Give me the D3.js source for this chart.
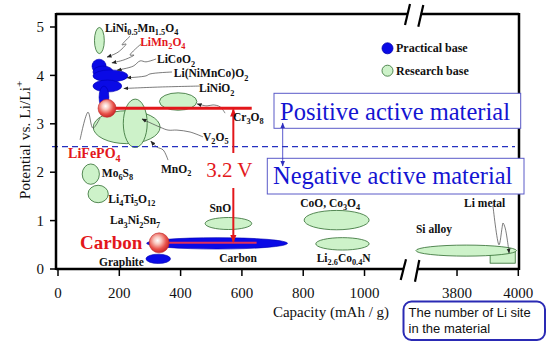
<!DOCTYPE html>
<html><head><meta charset="utf-8">
<script src="https://cdn.jsdelivr.net/npm/d3@7"></script>
<style>body{margin:0;background:#fff}svg{display:block}</style>
</head><body>
<svg id="c" width="549" height="355"></svg>
<script>
// ---------- data ----------
const CAP_TICKS = [0, 200, 400, 600, 800, 1000, 3800, 4000];
const POT_TICKS = [0, 1, 2, 3, 4, 5];

// research-base materials: capacity / potential centre and half-spread
const RESEARCH = [
  {name: "LiNi0.5Mn1.5O4", cap: 135, pot: 4.72, dCap: 16, dPot: 0.27},
  {name: "Cr3O8", cap: 392, pot: 3.46, dCap: 61, dPot: 0.18},
  {name: "V2O5", cap: 224, pot: 2.93, dCap: 109, dPot: 0.34},
  {name: "MnO2", cap: 252, pot: 3.01, dCap: 39, dPot: 0.5},
  {name: "Mo6S8", cap: 107, pot: 1.96, dCap: 28, dPot: 0.21},
  {name: "Li4Ti5O12", cap: 131, pot: 1.55, dCap: 33, dPot: 0.18},
  {name: "SnO", cap: 556, pot: 0.94, dCap: 76, dPot: 0.124},
  {name: "CoO, Co3O4", cap: 909, pot: 1.01, dCap: 106, dPot: 0.2},
  {name: "Li2.6Co0.4N", cap: 928, pot: 0.52, dCap: 87, dPot: 0.128}
];
const SI_ALLOY = {cap: 3830, pot: 0.38, dCap: 164, dPot: 0.114};
const LI_METAL = {cap0: 3908, cap1: 3990, pot0: 0.12, pot1: 0.39};

// practical-base materials
const PRACTICAL = [
  {name: "LiMn2O4", cap: 134, pot: 4.19, dCap: 23, dPot: 0.145},
  {name: "LiMn2O4-b", cap: 147, pot: 4.07, dCap: 33, dPot: 0.124},
  {name: "LiCoO2", cap: 171, pot: 3.99, dCap: 57, dPot: 0.124},
  {name: "LiNiO2", cap: 161, pot: 3.78, dCap: 47, dPot: 0.124},
  {name: "LiFePO4", cap: 150, pot: 3.55, dCap: 16, dPot: 0.23},
  {name: "Carbon", cap: 519, pot: 0.53, dCap: 230, dPot: 0.118},
  {name: "Graphite", cap: 327, pot: 0.21, dCap: 40, dPot: 0.097}
];

// LiFePO4 / Carbon reference points and cell voltage
const CATHODE_REF = {cap: 160, capEnd: 632, pot: 3.32};
const ANODE_REF = {cap: 330, capEnd: 648, pot: 0.54};
const VOLT_CAP = 572;
const VOLT_LABEL = "3.2 V";
const SEPARATOR_POT = 2.53;

const LABELS = [
  {t: "LiNi_{0.5}Mn_{1.5}O_{4}", cap: 153, pot: 4.90},
  {t: "LiMn_{2}O_{4}", cap: 268, pot: 4.61, red: 1},
  {t: "LiCoO_{2}", cap: 323, pot: 4.25},
  {t: "Li(NiMnCo)O_{2}", cap: 378, pot: 3.96},
  {t: "LiNiO_{2}", cap: 460, pot: 3.65},
  {t: "Cr_{3}O_{8}", cap: 571, pot: 3.06},
  {t: "V_{2}O_{5}", cap: 473, pot: 2.65},
  {t: "LiFePO_{4}", cap: 33, pot: 2.29, red: 2},
  {t: "MnO_{2}", cap: 336, pot: 1.98},
  {t: "Mo_{6}S_{8}", cap: 143, pot: 1.91},
  {t: "Li_{4}Ti_{5}O_{12}", cap: 164, pot: 1.36},
  {t: "La_{3}Ni_{2}Sn_{7}", cap: 170, pot: 0.92},
  {t: "SnO", cap: 494, pot: 1.18},
  {t: "Carbon", cap: 72, pot: 0.41, red: 3},
  {t: "Graphite", cap: 134, pot: 0.06},
  {t: "Carbon", cap: 526, pot: 0.15},
  {t: "CoO, Co_{3}O_{4}", cap: 790, pot: 1.29},
  {t: "Li_{2.6}Co_{0.4}N", cap: 844, pot: 0.15},
  {t: "Si alloy", cap: 3666, pot: 0.74},
  {t: "Li metal", cap: 3823, pot: 1.29}
];

// leader lines (capacity, potential)
const LEADERS = [
  [[235,4.81],[209,4.63],[222,4.65],[196,4.48],[160,4.38]],
  [[271,4.65],[235,4.42],[248,4.42],[215,4.32],[176,4.26]],
  [[320,4.34],[287,4.28],[268,4.30],[245,4.19],[193,4.11]],
  [[372,4.07],[300,4.03],[287,3.99],[225,3.95]],
  [[463,3.78],[333,3.76],[215,3.73]],
  [[545,3.22],[529,3.35],[506,3.39],[486,3.37],[454,3.41]],
  [[473,2.73],[431,2.83],[388,2.87],[359,2.87],[333,2.93],[274,3.10]],
  [[359,2.25],[343,2.46],[323,2.52],[303,2.64]],
  [[3917,1.32],[3937,0.50],[3947,0.85],[3950,0.95],[3957,0.85],[3970,0.33]]
];
const LIFEPO4_LEADER = [[72,2.67],[98,3.24],[114,2.91],[137,3.12]];

const LEGEND = [{t: "Practical base", kind: "p"}, {t: "Research base", kind: "r"}];

// ---------- drawing ----------
const svg = d3.select("#c");
const W = 549, H = 355;
const L = 56, R = 519, T = 14, B = 269;
const x = d3.scaleLinear().domain([0, 1135, 3640, 4000]).range([58, 405.9, 408, 518.3]);
const y = d3.scaleLinear().domain([0, 5]).range([269, 27]);

const SERIF = "'Liberation Serif','Times New Roman',serif";
const BLUE = "#0a0ae6", GREEN_F = "#cdf2c9", GREEN_S = "#2f6b2f", RED = "#e3171b";

svg.append("rect").attr("width", W).attr("height", H).attr("fill", "#fff");

const defs = svg.append("defs");
function marker(id, color, size) {
  defs.append("marker").attr("id", id).attr("viewBox", "0 0 10 10")
    .attr("refX", 9).attr("refY", 5).attr("markerWidth", size).attr("markerHeight", size)
    .attr("markerUnits", "userSpaceOnUse").attr("orient", "auto-start-reverse")
    .append("path").attr("d", "M0,1L10,5L0,9z").attr("fill", color);
}
marker("ak", "#222", 5);
marker("ar", RED, 8);
marker("ab", "#3030c0", 6);
const grad = defs.append("radialGradient").attr("id", "sph").attr("cx", "42%").attr("cy", "38%").attr("r", "62%");
[["0%", "#ffffff"], ["30%", "#f9c6bd"], ["70%", "#e8524a"], ["100%", "#c8282a"]].forEach(s =>
  grad.append("stop").attr("offset", s[0]).attr("stop-color", s[1]));

function rich(sel, str, size) {
  const parts = str.split(/(_\{[^}]*\}|\^\{[^}]*\})/).filter(s => s);
  let off = 0;
  parts.forEach(p => {
    let t = p, target = 0, small = false;
    if (p.startsWith("_{")) { t = p.slice(2, -1); target = size * 0.28; small = true; }
    else if (p.startsWith("^{")) { t = p.slice(2, -1); target = -size * 0.45; small = true; }
    const ts = sel.append("tspan").text(t).attr("dy", target - off);
    if (small) ts.attr("font-size", size * 0.72);
    off = target;
  });
}

function ell(g, d) {
  const cx = x(d.cap), cy = y(d.pot);
  return g.append("ellipse").attr("cx", cx).attr("cy", cy)
    .attr("rx", x(d.cap + d.dCap) - cx).attr("ry", y(d.pot - d.dPot) - cy);
}

const gR = svg.append("g");
RESEARCH.forEach(d => ell(gR, d).attr("fill", GREEN_F).attr("stroke", GREEN_S).attr("stroke-width", 0.8));
gR.append("rect").attr("x", x(LI_METAL.cap0)).attr("y", y(LI_METAL.pot1))
  .attr("width", x(LI_METAL.cap1) - x(LI_METAL.cap0)).attr("height", y(LI_METAL.pot0) - y(LI_METAL.pot1))
  .attr("fill", GREEN_F).attr("stroke", GREEN_S).attr("stroke-width", 0.8);
ell(gR, SI_ALLOY).attr("fill", GREEN_F).attr("stroke", GREEN_S).attr("stroke-width", 0.8);

const gP = svg.append("g");
PRACTICAL.forEach(d => ell(gP, d).attr("fill", BLUE).attr("stroke", "#0000b0").attr("stroke-width", 0.6));

// leaders
const line = d3.line().x(d => x(d[0])).y(d => y(d[1])).curve(d3.curveCatmullRom.alpha(0.5));
LEADERS.forEach(pts => svg.append("path").attr("d", line(pts)).attr("fill", "none")
  .attr("stroke", "#444").attr("stroke-width", 0.7).attr("marker-end", "url(#ak)"));
svg.append("path").attr("d", line(LIFEPO4_LEADER)).attr("fill", "none").attr("stroke", "#444").attr("stroke-width", 0.7);

// separator dashed line
svg.append("line").attr("x1", 52).attr("x2", 515).attr("y1", y(SEPARATOR_POT)).attr("y2", y(SEPARATOR_POT))
  .attr("stroke", "#2530c0").attr("stroke-width", 1.2).attr("stroke-dasharray", "6,4");

// reference lines
svg.append("line").attr("x1", x(CATHODE_REF.cap)).attr("x2", x(CATHODE_REF.capEnd))
  .attr("y1", y(CATHODE_REF.pot)).attr("y2", y(CATHODE_REF.pot)).attr("stroke", RED).attr("stroke-width", 3);
svg.append("line").attr("x1", x(ANODE_REF.cap)).attr("x2", x(ANODE_REF.capEnd))
  .attr("y1", y(ANODE_REF.pot)).attr("y2", y(ANODE_REF.pot)).attr("stroke", "#e0305a").attr("stroke-width", 2);

// voltage arrow
const vx = x(VOLT_CAP);
svg.append("line").attr("x1", vx).attr("x2", vx).attr("y1", 153).attr("y2", y(CATHODE_REF.pot) + 1)
  .attr("stroke", RED).attr("stroke-width", 2).attr("marker-end", "url(#ar)");
svg.append("line").attr("x1", vx).attr("x2", vx).attr("y1", 188).attr("y2", y(ANODE_REF.pot) - 1)
  .attr("stroke", RED).attr("stroke-width", 2).attr("marker-end", "url(#ar)");
svg.append("text").attr("x", vx - 4).attr("y", 177).attr("text-anchor", "middle")
  .attr("font-family", SERIF).attr("font-size", 21).attr("fill", RED).text(VOLT_LABEL);

// spheres
[[CATHODE_REF, 9], [ANODE_REF, 10]].forEach(([d, r]) => svg.append("circle")
  .attr("cx", x(d.cap)).attr("cy", y(d.pot)).attr("r", r)
  .attr("fill", "url(#sph)").attr("stroke", "#c02a2a").attr("stroke-width", 0.6));

// labels
LABELS.forEach(d => {
  const size = d.red === 3 ? 19 : d.red === 2 ? 14 : 11.5;
  const t = svg.append("text").attr("x", x(d.cap)).attr("y", y(d.pot))
    .attr("font-family", SERIF).attr("font-weight", "bold").attr("font-size", size)
    .attr("fill", d.red ? RED : "#111");
  rich(t, d.t, size);
});

// frame & axes
const frame = svg.append("g").attr("stroke", "#000").attr("stroke-width", 2.5).attr("fill", "none");
frame.append("line").attr("x1", L).attr("x2", L).attr("y1", T - 1).attr("y2", B + 1);
frame.append("line").attr("x1", R).attr("x2", R).attr("y1", T - 1).attr("y2", B + 1);
frame.append("line").attr("x1", L).attr("x2", 407.5).attr("y1", T).attr("y2", T);
frame.append("line").attr("x1", 420.8).attr("x2", R).attr("y1", T).attr("y2", T);
frame.append("line").attr("x1", L).attr("x2", 403.3).attr("y1", B).attr("y2", B);
frame.append("line").attr("x1", 417.2).attr("x2", R).attr("y1", B).attr("y2", B);
const brk = svg.append("g").attr("stroke", "#000").attr("stroke-width", 2.2);
[[405, 25, 410, 4], [418.3, 26.7, 423.3, 5], [400.7, 280, 406, 259.3], [415, 281.7, 419.3, 260]]
  .forEach(s => brk.append("line").attr("x1", s[0]).attr("y1", s[1]).attr("x2", s[2]).attr("y2", s[3]));

const gx = svg.append("g");
CAP_TICKS.forEach(v => {
  gx.append("line").attr("x1", x(v)).attr("x2", x(v)).attr("y1", B).attr("y2", B + 7)
    .attr("stroke", "#000").attr("stroke-width", 1.5);
  gx.append("text").attr("x", x(v)).attr("y", 298).attr("text-anchor", "middle")
    .attr("font-family", SERIF).attr("font-size", 15).attr("fill", "#111").text(v);
});
const gy = svg.append("g");
POT_TICKS.forEach(v => {
  gy.append("line").attr("x1", L - 6).attr("x2", L).attr("y1", y(v)).attr("y2", y(v))
    .attr("stroke", "#000").attr("stroke-width", 1.5);
  gy.append("text").attr("x", 44).attr("y", y(v)).attr("dy", "0.35em").attr("text-anchor", "end")
    .attr("font-family", SERIF).attr("font-size", 15).attr("fill", "#111").text(v);
});
svg.append("text").attr("x", 331).attr("y", 317).attr("text-anchor", "middle")
  .attr("font-family", SERIF).attr("font-size", 15).attr("fill", "#111").text("Capacity (mAh / g)");
const yt = svg.append("text").attr("transform", "translate(30,140) rotate(-90)").attr("text-anchor", "middle")
  .attr("font-family", SERIF).attr("font-size", 15.5).attr("fill", "#111");
rich(yt, "Potential vs. Li/Li^{+}", 15.5);

// legend
LEGEND.forEach((d, i) => {
  const cy = 48.3 + i * 22.4;
  svg.append("circle").attr("cx", 387.5).attr("cy", cy).attr("r", 5.5)
    .attr("fill", d.kind === "p" ? BLUE : GREEN_F).attr("stroke", d.kind === "p" ? "#0000b0" : GREEN_S).attr("stroke-width", 0.8);
  svg.append("text").attr("x", 396).attr("y", cy + 4).attr("font-family", SERIF).attr("font-weight", "bold")
    .attr("font-size", 12).attr("fill", "#111").text(d.t);
});

// material boxes
const TXT_BLUE = "#1414d2";
svg.append("rect").attr("x", 274).attr("y", 93.3).attr("width", 246.7).attr("height", 35)
  .attr("fill", "#fff").attr("stroke", "#5a5ac8").attr("stroke-width", 1);
svg.append("text").attr("x", 280).attr("y", 119.5).attr("font-family", SERIF).attr("font-size", 24.5)
  .attr("fill", TXT_BLUE).text("Positive active material");
svg.append("rect").attr("x", 267.3).attr("y", 158.3).attr("width", 256.7).attr("height", 35.7)
  .attr("fill", "#fff").attr("stroke", "#5a5ac8").attr("stroke-width", 1);
svg.append("text").attr("x", 273).attr("y", 184).attr("font-family", SERIF).attr("font-size", 24.5)
  .attr("fill", TXT_BLUE).text("Negative active material");
svg.append("line").attr("x1", 282.7).attr("x2", 282.7).attr("y1", 123).attr("y2", 166)
  .attr("stroke", "#3030c0").attr("stroke-width", 0.8)
  .attr("marker-start", "url(#ab)").attr("marker-end", "url(#ab)");

// Li site note
svg.append("rect").attr("x", 403.5).attr("y", 301.5).attr("width", 141.5).attr("height", 38.5).attr("rx", 8)
  .attr("fill", "#fff").attr("stroke", "#2a2ab4").attr("stroke-width", 2);
["The number of Li site", "in the material"].forEach((s, i) =>
  svg.append("text").attr("x", 408.5).attr("y", 316.5 + i * 16.3)
    .attr("font-family", "'Liberation Sans',Arial,sans-serif").attr("font-size", 13).attr("fill", "#111").text(s));
</script>
</body></html>
